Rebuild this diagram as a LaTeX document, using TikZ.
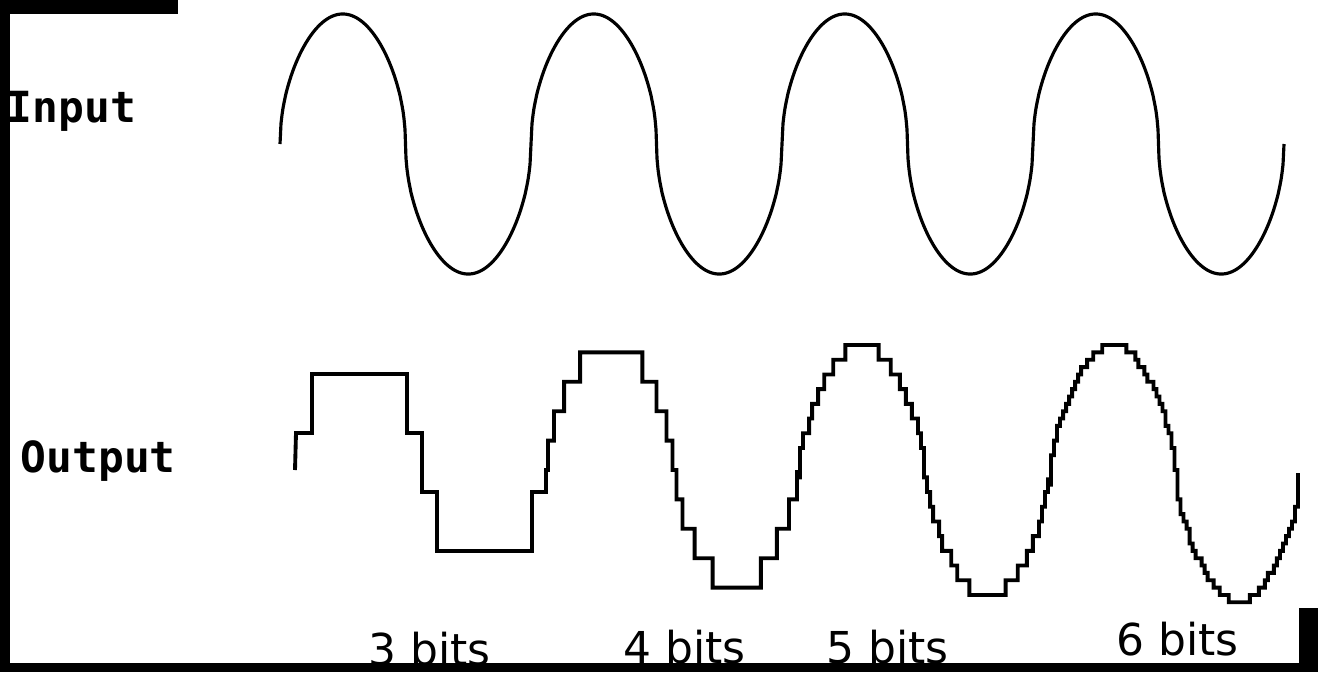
\documentclass[tikz,border=0pt]{standalone}
\usepackage{fontspec}
\usepackage{tikz}
\newfontfamily\labelfont{DejaVu Sans Mono}
\newfontfamily\bitsfont{DejaVu Sans}

\begin{document}
\begin{tikzpicture}[x=0.01cm,y=-0.01cm,
		declare function={shp(\x,\p)=sign(sin(\x))*(abs(sin(\x))+0.00001)^\p;}]
		\tikzstyle{frame}=[fill=black]
		\tikzstyle{wave}=[line width=0.9pt, line join=round]
		\tikzstyle{stair}=[line width=1.1pt, line join=miter]
		\tikzstyle{signame}=[font=\labelfont\bfseries\fontsize{12.2}{14}\selectfont, inner sep=0pt, anchor=base west]
		\tikzstyle{bitlabel}=[font=\bitsfont\fontsize{12.5}{14}\selectfont, inner sep=0pt, anchor=base west]

		\useasboundingbox[fill=white] (0,0) rectangle (1318,672);

		% analogue input
		\draw[wave] plot[domain=280:1284, samples=1005] (\x, {144-130*shp((\x-280)/251*360,0.5)});

		% quantized output, one period for each resolution
		\draw[stair] (295,470)
		\foreach \lo/\hi/\num/\qs/\qc/\ctr/\amp in {296/546/251/59/433/462/112, 546/797/126/29.4/470/465/122,
			797/1048/84/14.7/462.65/470/125, 1048/1298/84/7.35/470/473/128}
		{ -- plot[const plot, domain=\lo:\hi, samples=\num]
			(\x, {\qc+\qs*round((\ctr-\amp*shp((\x-296)/251*360,0.65)-\qc)/\qs)}) }
		-- (1298,473);

		\node[signame] (input) at (6,122) {Input};
		\node[signame] (output) at (20,472) {Output};
		\node[bitlabel] (b3) at (368,665) {3 bits};
		\node[bitlabel] (b4) at (623,663) {4 bits};
		\node[bitlabel] (b5) at (826,663) {5 bits};
		\node[bitlabel] (b6) at (1116,655) {6 bits};

		% black edges of the scan
		\fill[frame] (0,0) rectangle (178,14);
		\fill[frame] (0,0) rectangle (10,672);
		\fill[frame] (0,663) rectangle (1318,672);
		\fill[frame] (1299,608) rectangle (1318,672);
	\end{tikzpicture}
\end{document}
